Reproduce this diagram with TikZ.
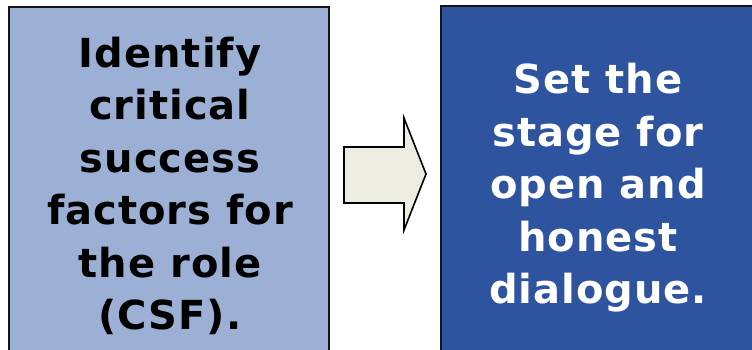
\documentclass[tikz,border=0pt]{standalone}
\usepackage{fontspec}
\setmainfont{DejaVu Sans}[LetterSpace=2.5]
\usetikzlibrary{positioning}
\definecolor{leftfill}{RGB}{156,176,214}
\definecolor{rightfill}{RGB}{46,84,160}
\definecolor{arrowfill}{RGB}{237,236,224}
\definecolor{edge}{RGB}{20,20,20}
\tikzset{
  label text/.style={font=\fontsize{40}{52.5}\selectfont\bfseries, align=center, inner sep=0pt},
}
\begin{document}
\begin{tikzpicture}[x=1pt,y=-1pt]
\useasboundingbox (0,0) rectangle (752,350);
% left panel
\fill[leftfill] (9,7) rectangle (329,360);
\draw[edge,line width=1.6pt] (9,360) -- (9,7) -- (329,7) -- (329,360);
\node[label text, text=black] (csf) at (170,186)
  {Identify\\critical\\success\\factors for\\the role\\(CSF).};
% right panel
\fill[rightfill] (441,6) rectangle (760,360);
\draw[edge,line width=1.6pt] (441,360) -- (441,6) -- (760,6);
\node[label text, text=white] (stage) at (598,188)
  {Set the\\stage for\\open and\\honest\\dialogue.};
% block arrow between the panels
\draw[line width=1.6pt, fill=arrowfill, line join=miter]
  (344,147) -- (404,147) -- (404,118) -- (426,174) -- (404,230) -- (404,203) -- (344,203) -- cycle;
\end{tikzpicture}
\end{document}
